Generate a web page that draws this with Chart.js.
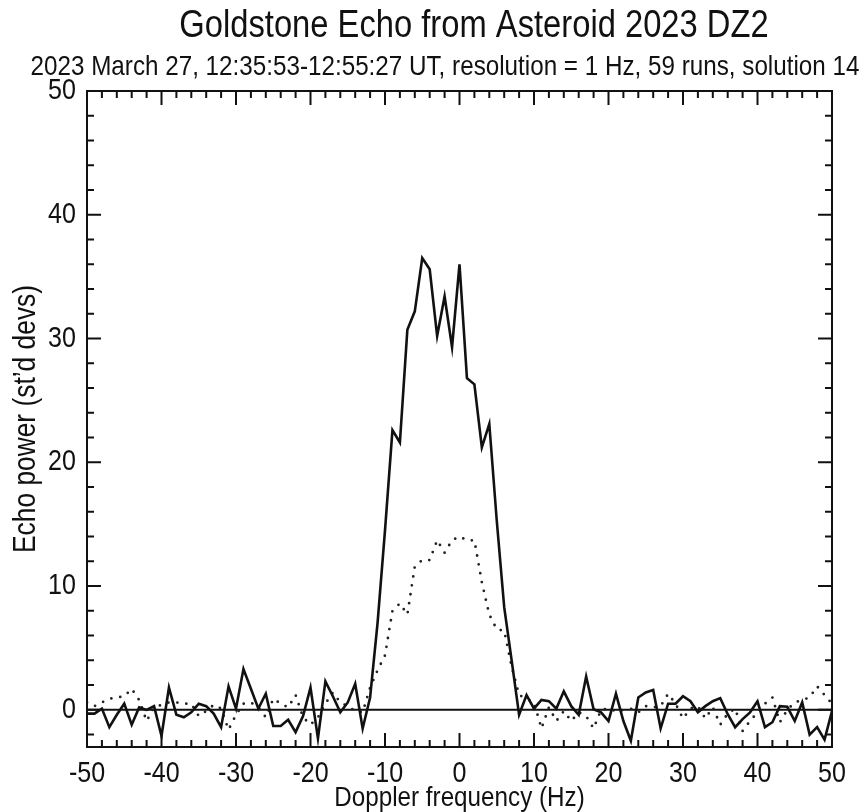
<!DOCTYPE html>
<html>
<head>
<meta charset="utf-8">
<script src="https://cdn.jsdelivr.net/npm/chart.js@4.4.0/dist/chart.umd.min.js"></script>
<style>
  html, body { margin: 0; padding: 0; background: #fff; }
</style>
</head>
<body>
<canvas id="myChart" width="868" height="812"></canvas>
<script>
// Doppler bins (Hz), 1 Hz resolution
const freqs = [
  -50, -49, -48, -47, -46, -45, -44, -43, -42, -41,
  -40, -39, -38, -37, -36, -35, -34, -33, -32, -31,
  -30, -29, -28, -27, -26, -25, -24, -23, -22, -21,
  -20, -19, -18, -17, -16, -15, -14, -13, -12, -11,
  -10, -9, -8, -7, -6, -5, -4, -3, -2, -1,
  0, 1, 2, 3, 4, 5, 6, 7, 8, 9,
  10, 11, 12, 13, 14, 15, 16, 17, 18, 19,
  20, 21, 22, 23, 24, 25, 26, 27, 28, 29,
  30, 31, 32, 33, 34, 35, 36, 37, 38, 39,
  40, 41, 42, 43, 44, 45, 46, 47, 48, 49,
  50
];

// solid trace
const solidPower = [
  -0.3, -0.3, 0.1, -1.4, -0.4, 0.5, -1.2, 0.2, 0.0, 0.3,
  -2.1, 1.8, -0.4, -0.6, -0.2, 0.5, 0.3, -0.3, -1.4, 1.9,
  0.1, 3.3, 1.7, 0.1, 1.3, -1.3, -1.3, -0.8, -1.8, -0.5,
  1.8, -2.3, 2.3, 1.1, -0.2, 0.6, 2.1, -1.5, 1.0, 7.0,
  14.5, 22.6, 21.6, 30.7, 32.2, 36.5, 35.6, 30.2, 33.4, 29.3,
  36.0, 26.8, 26.3, 21.2, 23.1, 15.3, 8.3, 4.0, -0.4, 1.2,
  0.1, 0.8, 0.7, 0.1, 1.5, 0.3, -0.4, 2.7, 0.05, -0.2,
  -0.9, 1.3, -0.9, -2.5, 1.0, 1.4, 1.6, -1.5, 0.5, 0.5,
  1.1, 0.7, -0.2, 0.3, 0.7, 0.95, -0.35, -1.4, -0.75, -0.2,
  0.7, -1.4, -1.0, 0.3, 0.25, -0.9, 0.6, -2.0, -1.4, -2.4,
  -0.1
];

// dotted trace
const dottedPower = [
  0.6, 0.3, 0.6, 0.9, 1.0, 1.1, 1.7, 0.8, -0.9, 0.2,
  0.4, 0.6, 0.6, 0.5, 0.5, -0.5, -0.1, 0.4, 0.1, -1.6,
  -0.4, 0.5, 0.6, 0.2, -0.6, 0.9, 0.5, 0.2, 1.2, -0.6,
  -1.2, -0.6, 0.5, 1.4, 0.6, 0.3, -0.1, -0.2, 1.8, 3.2,
  4.4, 8.0, 8.6, 7.7, 11.6, 12.1, 12.1, 13.7, 12.7, 13.7,
  14.0, 13.7, 13.7, 10.3, 7.7, 6.5, 6.4, 3.5, 1.2, 0.9,
  0.6, -1.5, 0.2, -0.9, -0.1, -0.9, -0.2, -0.5, -1.5, 0.0,
  0.1, -0.1, 0.0, 0.1, -0.2, 0.3, 0.2, 0.3, 1.3, 0.5,
  -0.7, 0.1, 0.3, -0.7, 0.2, -1.2, -0.3, 0.1, -1.7, -0.9,
  -0.2, 0.5, 1.0, -1.0, 0.0, 0.6, 0.8, 1.0, 1.9, 1.2,
  0.5
];

const xTickValues = [-50, -40, -30, -20, -10, 0, 10, 20, 30, 40, 50];
const yTickValues = [0, 10, 20, 30, 40, 50];

const titleText = 'Goldstone Echo from Asteroid 2023 DZ2';
const subtitleText = '2023 March 27, 12:35:53-12:55:27 UT, resolution = 1 Hz, 59 runs, solution 14';

const FONT = '"Liberation Sans", Arial, Helvetica, sans-serif';
const INK = '#111';
const SQUEEZE = 0.85; // horizontal scale for all text (condensed Helvetica look)

function toPoints(values) {
  return freqs.map((f, i) => ({ x: f, y: values[i] }));
}

const ctx = document.getElementById('myChart').getContext('2d');

// no narrow face is installed, so squeeze glyphs around their anchor point
const plainFillText = ctx.fillText.bind(ctx);
ctx.fillText = function (text, x, y) {
  ctx.save();
  ctx.translate(x, y);
  ctx.scale(SQUEEZE, 1);
  plainFillText(text, 0, 0);
  ctx.restore();
};

// headings, zero line, box frame and inward ticks
const plotDecor = {
  id: 'plotDecor',
  beforeDatasetsDraw(chart) {
    const { ctx, chartArea: a, scales: { y } } = chart;
    const y0 = y.getPixelForValue(0);
    ctx.save();
    ctx.strokeStyle = INK;
    ctx.lineWidth = 2;
    ctx.beginPath();
    ctx.moveTo(a.left, y0);
    ctx.lineTo(a.right, y0);
    ctx.stroke();
    ctx.restore();
  },
  afterDraw(chart) {
    const { ctx, chartArea: a, scales: { x, y } } = chart;
    ctx.save();
    ctx.fillStyle = INK;
    ctx.textAlign = 'center';
    ctx.textBaseline = 'alphabetic';
    ctx.font = '38.5px ' + FONT;
    ctx.fillText(titleText, 474, 37);
    ctx.font = '28.5px ' + FONT;
    ctx.fillText(subtitleText, 445, 75);

    ctx.strokeStyle = INK;
    ctx.lineWidth = 2;
    ctx.strokeRect(a.left, a.top, a.right - a.left, a.bottom - a.top);

    ctx.beginPath();
    for (let v = -50; v <= 50; v += 2) {
      const px = x.getPixelForValue(v);
      const len = v % 10 === 0 ? 14 : 7;
      ctx.moveTo(px, a.bottom);
      ctx.lineTo(px, a.bottom - len);
      ctx.moveTo(px, a.top);
      ctx.lineTo(px, a.top + len);
    }
    for (let v = -2; v <= 50; v += 2) {
      const py = y.getPixelForValue(v);
      const len = v % 10 === 0 ? 14 : 7;
      ctx.moveTo(a.left, py);
      ctx.lineTo(a.left + len, py);
      ctx.moveTo(a.right, py);
      ctx.lineTo(a.right - len, py);
    }
    ctx.stroke();
    ctx.restore();
  }
};

new Chart(ctx, {
  type: 'line',
  data: {
    datasets: [
      {
        label: 'solid',
        data: toPoints(solidPower),
        borderColor: INK,
        borderWidth: 2.6,
        pointRadius: 0,
        tension: 0,
        borderJoinStyle: 'miter'
      },
      {
        label: 'dotted',
        data: toPoints(dottedPower),
        borderColor: '#222',
        borderWidth: 2.8,
        borderDash: [0, 9],
        borderCapStyle: 'round',
        pointRadius: 0,
        tension: 0
      }
    ]
  },
  options: {
    responsive: false,
    animation: false,
    devicePixelRatio: 1,
    layout: { padding: { top: 91, right: 36, left: 0, bottom: 0 } },
    plugins: {
      legend: { display: false },
      tooltip: { enabled: false },
      title: { display: false }
    },
    scales: {
      x: {
        type: 'linear',
        min: -50,
        max: 50,
        grid: { display: false, drawTicks: false },
        border: { display: false },
        afterBuildTicks(scale) {
          scale.ticks = xTickValues.map(v => ({ value: v }));
        },
        afterFit(scale) { scale.height = 65; },
        ticks: {
          color: INK,
          padding: 9,
          maxRotation: 0,
          autoSkip: false,
          font: { family: FONT, size: 29.5 }
        },
        title: {
          display: true,
          text: 'Doppler frequency (Hz)',
          color: INK,
          padding: { top: 0, bottom: 0 },
          font: { family: FONT, size: 28.5, lineHeight: 1.0 }
        }
      },
      y: {
        min: -3,
        max: 50,
        grid: { display: false, drawTicks: false },
        border: { display: false },
        afterBuildTicks(scale) {
          scale.ticks = yTickValues.map(v => ({ value: v }));
        },
        afterFit(scale) { scale.width = 87; },
        ticks: {
          color: INK,
          padding: 11,
          font: { family: FONT, size: 29.5 }
        },
        title: {
          display: true,
          text: 'Echo power (st\u2019d devs)',
          color: INK,
          padding: { top: 11, bottom: 0 },
          font: { family: FONT, size: 31, lineHeight: 1.0 }
        }
      }
    }
  },
  plugins: [plotDecor]
});
</script>
</body>
</html>
